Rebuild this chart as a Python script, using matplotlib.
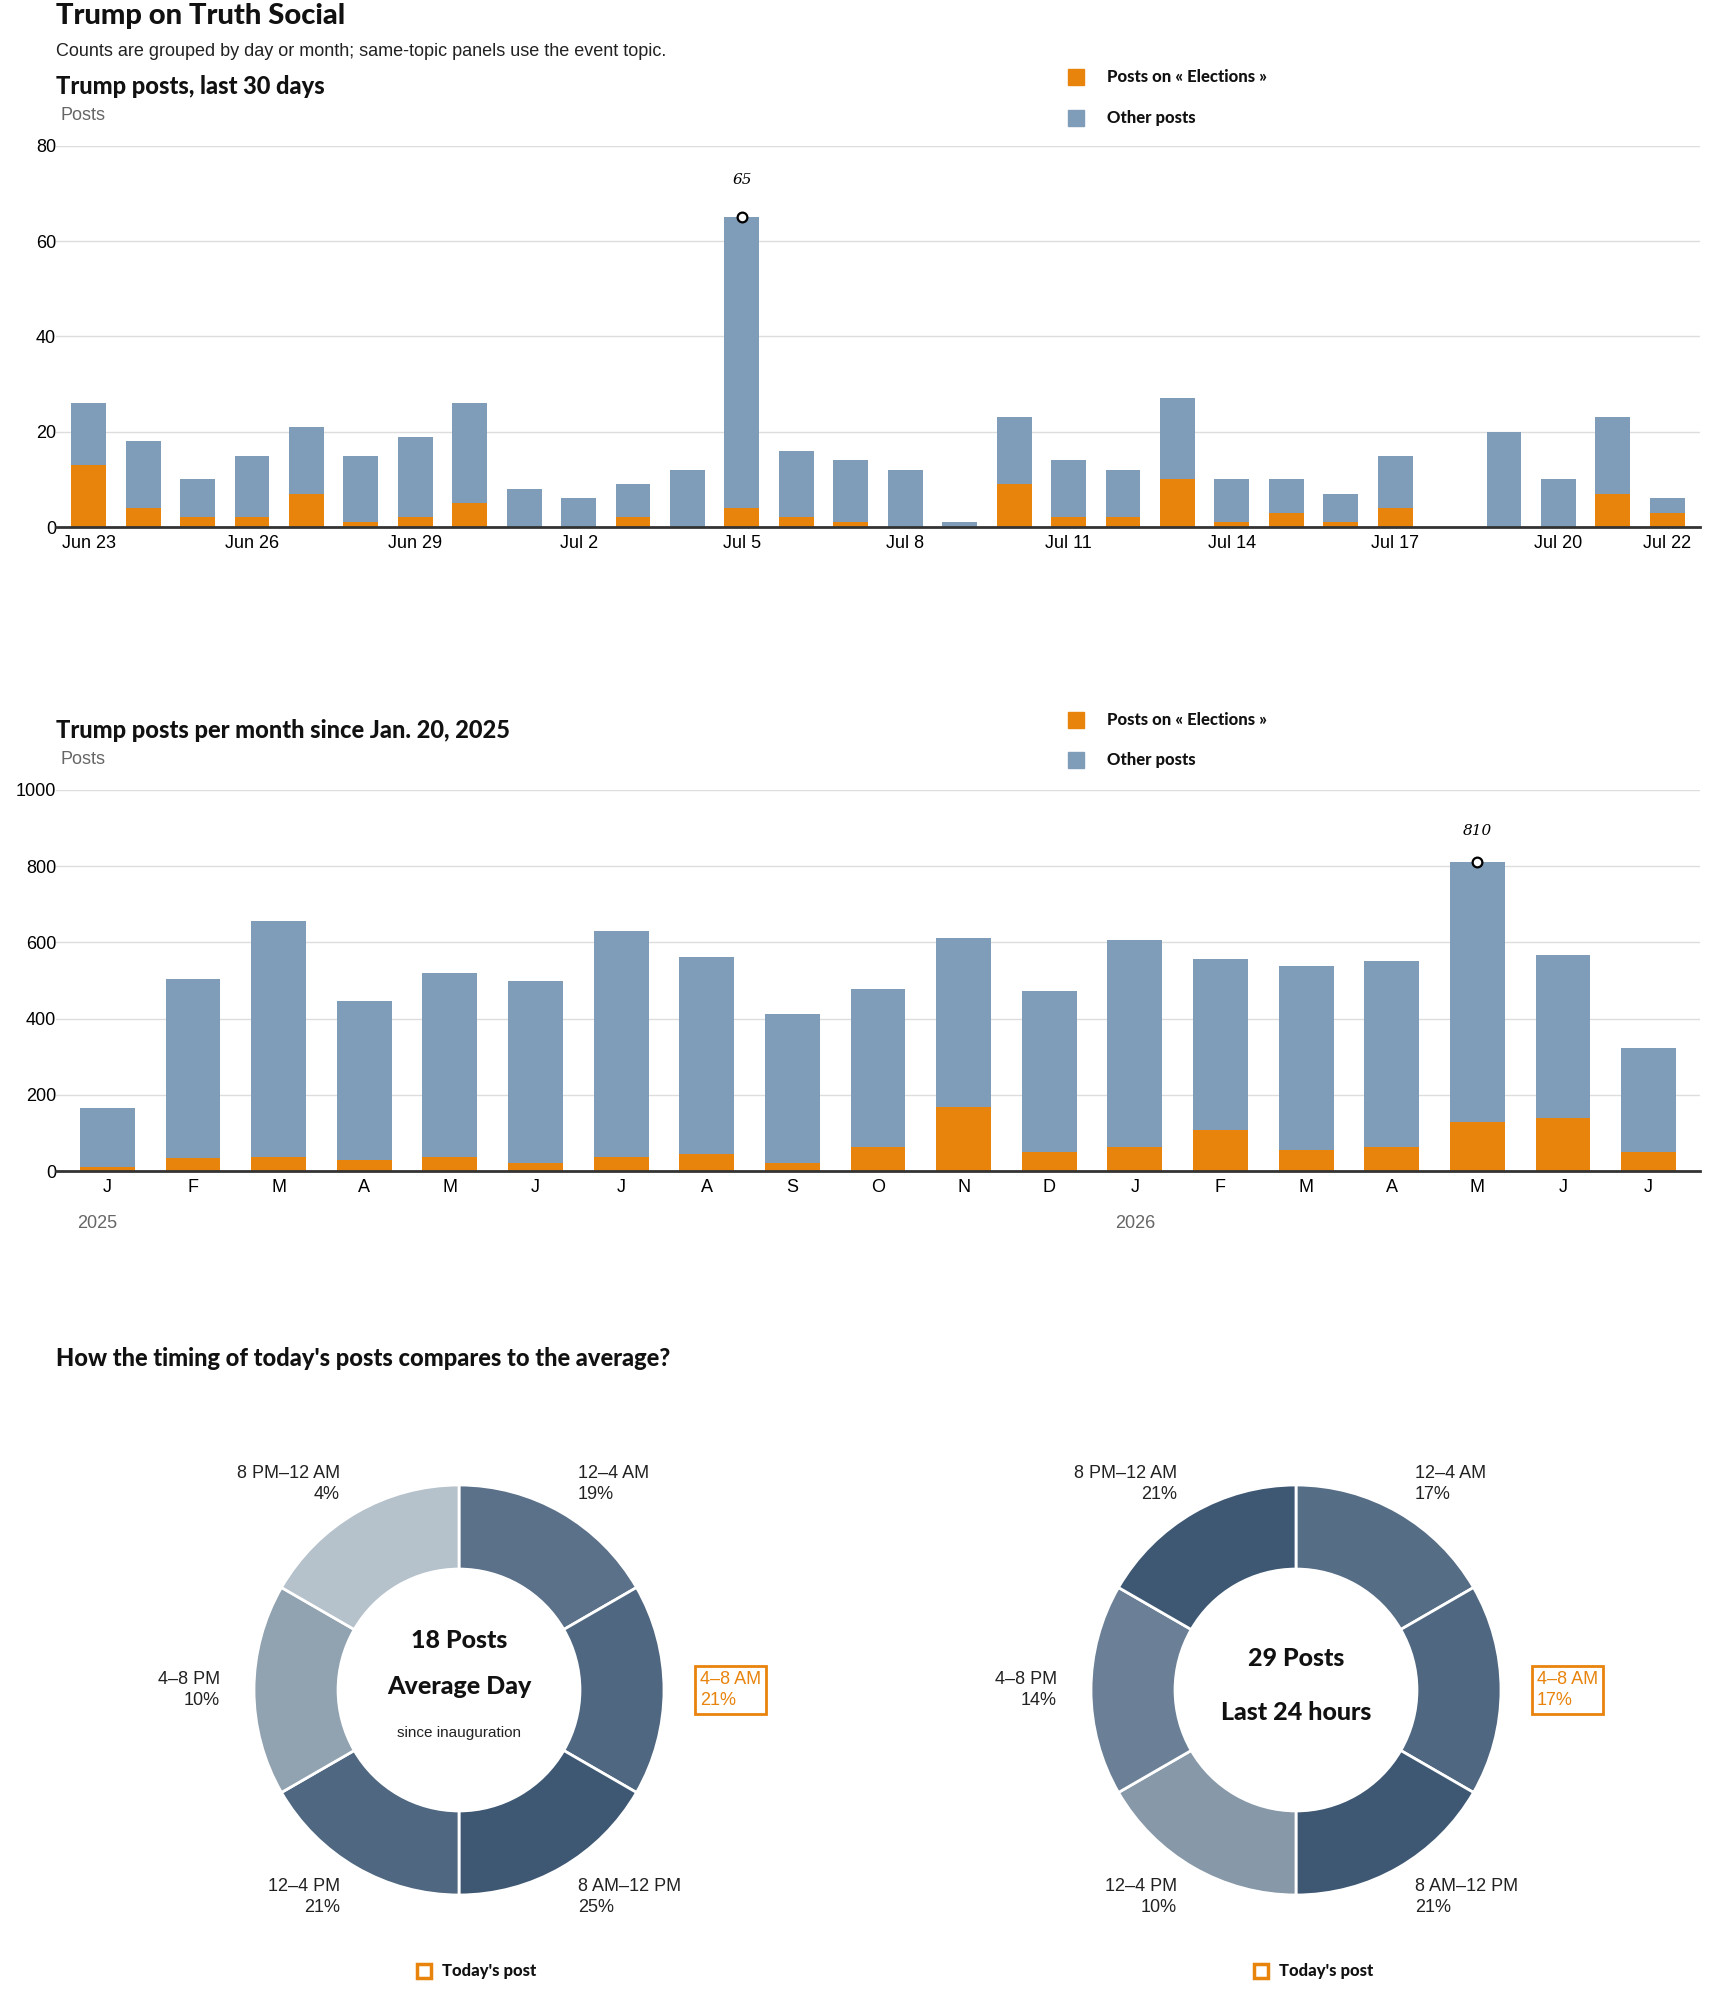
import matplotlib
matplotlib.use("Agg")
import matplotlib.pyplot as plt
from matplotlib.patches import Rectangle

W, H = 1710, 1993
ORANGE = "#e8830c"
BLUE = "#7f9db9"
FONT = ["Lato", "DejaVu Sans"]
plt.rcParams['font.family'] = ["Liberation Sans", "DejaVu Sans"]

# ---- data ----
day_labels = ["Jun 23", "Jun 24", "Jun 25", "Jun 26", "Jun 27", "Jun 28", "Jun 29", "Jun 30",
              "Jul 1", "Jul 2", "Jul 3", "Jul 4", "Jul 5", "Jul 6", "Jul 7", "Jul 8", "Jul 9",
              "Jul 10", "Jul 11", "Jul 12", "Jul 13", "Jul 14", "Jul 15", "Jul 16", "Jul 17",
              "Jul 18", "Jul 19", "Jul 20", "Jul 21", "Jul 22"]
day_total = [26, 18, 10, 15, 21, 15, 19, 26, 8, 6, 9, 12, 65, 16, 14, 12, 1, 23, 14, 12, 27,
             10, 10, 7, 15, 0, 20, 10, 23, 6]
day_elect = [13, 4, 2, 2, 7, 1, 2, 5, 0, 0, 2, 0, 4, 2, 1, 0, 0, 9, 2, 2, 10, 1, 3, 1, 4,
             0, 0, 0, 7, 3]
day_tick_idx = [0, 3, 6, 9, 12, 15, 18, 21, 24, 27, 29]

month_labels = ["J", "F", "M", "A", "M", "J", "J", "A", "S", "O", "N", "D",
                "J", "F", "M", "A", "M", "J", "J"]
month_total = [165, 505, 655, 447, 520, 500, 630, 562, 413, 478, 612, 473,
               607, 557, 538, 550, 810, 567, 322]
month_elect = [10, 35, 38, 28, 38, 20, 38, 45, 20, 62, 168, 50,
               62, 108, 55, 62, 128, 140, 50]

slot_labels = ["12–4 AM", "4–8 AM", "8 AM–12 PM", "12–4 PM", "4–8 PM", "8 PM–12 AM"]
avg_share = [19, 21, 25, 21, 10, 4]
today_share = [17, 17, 21, 10, 14, 21]
avg_colors = ["#5b7089", "#4f6780", "#3e5874", "#4f6780", "#91a2b1", "#b5c1cb"]
today_colors = ["#566d86", "#4f6780", "#3e5874", "#8798a8", "#6b8096", "#3e5874"]

fig = plt.figure(figsize=(W / 100, H / 100), dpi=100)


def fx(x):
    return x / W


def fy(y):
    return 1 - y / H


def txt(x, y, s, **kw):
    fig.text(fx(x), fy(y), s, **kw)


HEAVY = dict(family=FONT, weight="black", color="#111111")

txt(56, 16, "Trump on Truth Social", fontsize=21, va="center", **HEAVY)
txt(56, 51, "Counts are grouped by day or month; same-topic panels use the event topic.",
    fontsize=13, va="center", color="#222222")


def legend(y1, y2):
    fig.patches.append(Rectangle((fx(1068), fy(y1) - 8 / H), 16 / W, 16 / H,
                                 transform=fig.transFigure, color=ORANGE))
    fig.patches.append(Rectangle((fx(1068), fy(y2) - 8 / H), 16 / W, 16 / H,
                                 transform=fig.transFigure, color=BLUE))
    txt(1107, y1, "Posts on « Elections »", fontsize=12, va="center", **HEAVY)
    txt(1107, y2, "Other posts", fontsize=12, va="center", **HEAVY)


def style_ax(ax, ymax, step):
    ax.set_ylim(0, ymax)
    ax.set_yticks(range(0, ymax + 1, step))
    ax.grid(axis="y", color="#dddddd", lw=1)
    ax.set_axisbelow(True)
    for s in ["top", "right", "left"]:
        ax.spines[s].set_visible(False)
    ax.spines["bottom"].set_color("#333333")
    ax.spines["bottom"].set_linewidth(2)
    ax.tick_params(axis="y", length=0, labelsize=13, pad=0)
    ax.tick_params(axis="x", length=0, labelsize=13, pad=6)
    for lab in ax.get_yticklabels():
        lab.set_horizontalalignment("right")


# ---- chart 1 ----
txt(56, 87, "Trump posts, last 30 days", fontsize=17, va="center", **HEAVY)
txt(60, 115, "Posts", fontsize=13, va="center", color="#666666")
legend(77, 118)
ax1 = fig.add_axes([fx(56), fy(527), fx(1700) - fx(56), fy(146) - fy(527)])
x1 = list(range(len(day_total)))
other1 = [t - e for t, e in zip(day_total, day_elect)]
ax1.bar(x1, day_elect, width=0.64, color=ORANGE)
ax1.bar(x1, other1, bottom=day_elect, width=0.64, color=BLUE)
ax1.set_xlim(-0.6, len(x1) - 0.4)
style_ax(ax1, 80, 20)
ax1.set_xticks(day_tick_idx)
ax1.set_xticklabels([day_labels[i] for i in day_tick_idx])
m1 = day_total.index(max(day_total))
ax1.plot([m1], [day_total[m1]], "o", mfc="white", mec="black", ms=7, mew=1.6)
ax1.annotate(str(day_total[m1]), (m1, day_total[m1]), xytext=(0, 24), textcoords="offset points",
             ha="center", fontsize=11, style="italic", family="DejaVu Serif")

# ---- chart 2 ----
txt(56, 731, "Trump posts per month since Jan. 20, 2025", fontsize=17, va="center", **HEAVY)
txt(60, 759, "Posts", fontsize=13, va="center", color="#666666")
legend(720, 760)
ax2 = fig.add_axes([fx(56), fy(1171), fx(1700) - fx(56), fy(790) - fy(1171)])
x2 = list(range(len(month_total)))
other2 = [t - e for t, e in zip(month_total, month_elect)]
ax2.bar(x2, month_elect, width=0.64, color=ORANGE)
ax2.bar(x2, other2, bottom=month_elect, width=0.64, color=BLUE)
ax2.set_xlim(-0.6, len(x2) - 0.4)
style_ax(ax2, 1000, 200)
ax2.set_xticks(x2)
ax2.set_xticklabels(month_labels)
m2 = month_total.index(max(month_total))
ax2.plot([m2], [month_total[m2]], "o", mfc="white", mec="black", ms=7, mew=1.6)
ax2.annotate(str(month_total[m2]), (m2, month_total[m2]), xytext=(0, 20), textcoords="offset points",
             ha="center", fontsize=11, style="italic", family="DejaVu Serif")
txt(77, 1223, "2025", fontsize=13, va="center", color="#666666")
txt(1115, 1223, "2026", fontsize=13, va="center", color="#666666")

# ---- donuts ----
txt(56, 1358, "How the timing of today's posts compares to the average?", fontsize=17,
    va="center", **HEAVY)


def donut(cx, shares, colors, center_lines):
    r = 205
    ax = fig.add_axes([fx(cx - r), fy(1690 + r), 2 * r / W, 2 * r / H])
    ax.pie([1] * len(shares), colors=colors, startangle=90, counterclock=False,
           wedgeprops=dict(width=0.41, edgecolor="white", linewidth=2), radius=1)
    ax.set_xlim(-1, 1)
    ax.set_ylim(-1, 1)
    ax.axis("off")
    pos = [(cx + 119, 1484, "left"), (cx + 237, 1690, "left"), (cx + 119, 1897, "left"),
           (cx - 119, 1897, "right"), (cx - 239, 1690, "right"), (cx - 119, 1484, "right")]
    for i, (lx, ly, ha) in enumerate(pos):
        s = f"{slot_labels[i]}\n{shares[i]}%"
        if i == 1:
            txt(lx + 4, ly, s, fontsize=13, va="center", ha="left", color=ORANGE, linespacing=1.35,
                bbox=dict(boxstyle="square,pad=0.25", fc="white", ec=ORANGE, lw=2))
        else:
            txt(lx, ly, s, fontsize=13, va="center", ha=ha, multialignment=ha,
                color="#222222", linespacing=1.35)
    for y, s, size, heavy in center_lines:
        if heavy:
            txt(cx, y, s, fontsize=size, ha="center", va="center", **HEAVY)
        else:
            txt(cx, y, s, fontsize=size, ha="center", va="center", color="#222222")
    fig.patches.append(Rectangle((fx(cx - 42), fy(1971) - 7 / H), 14 / W, 14 / H,
                                 transform=fig.transFigure, fc="none", ec=ORANGE, lw=2.5))
    txt(cx - 17, 1971, "Today's post", fontsize=12, va="center", **HEAVY)


donut(459, avg_share, avg_colors,
      [(1641, "18 Posts", 18, True), (1687, "Average Day", 18, True),
       (1733, "since inauguration", 11, False)])
donut(1296, today_share, today_colors,
      [(1659, "29 Posts", 18, True), (1713, "Last 24 hours", 18, True)])

fig.savefig("out.png", dpi=100)
